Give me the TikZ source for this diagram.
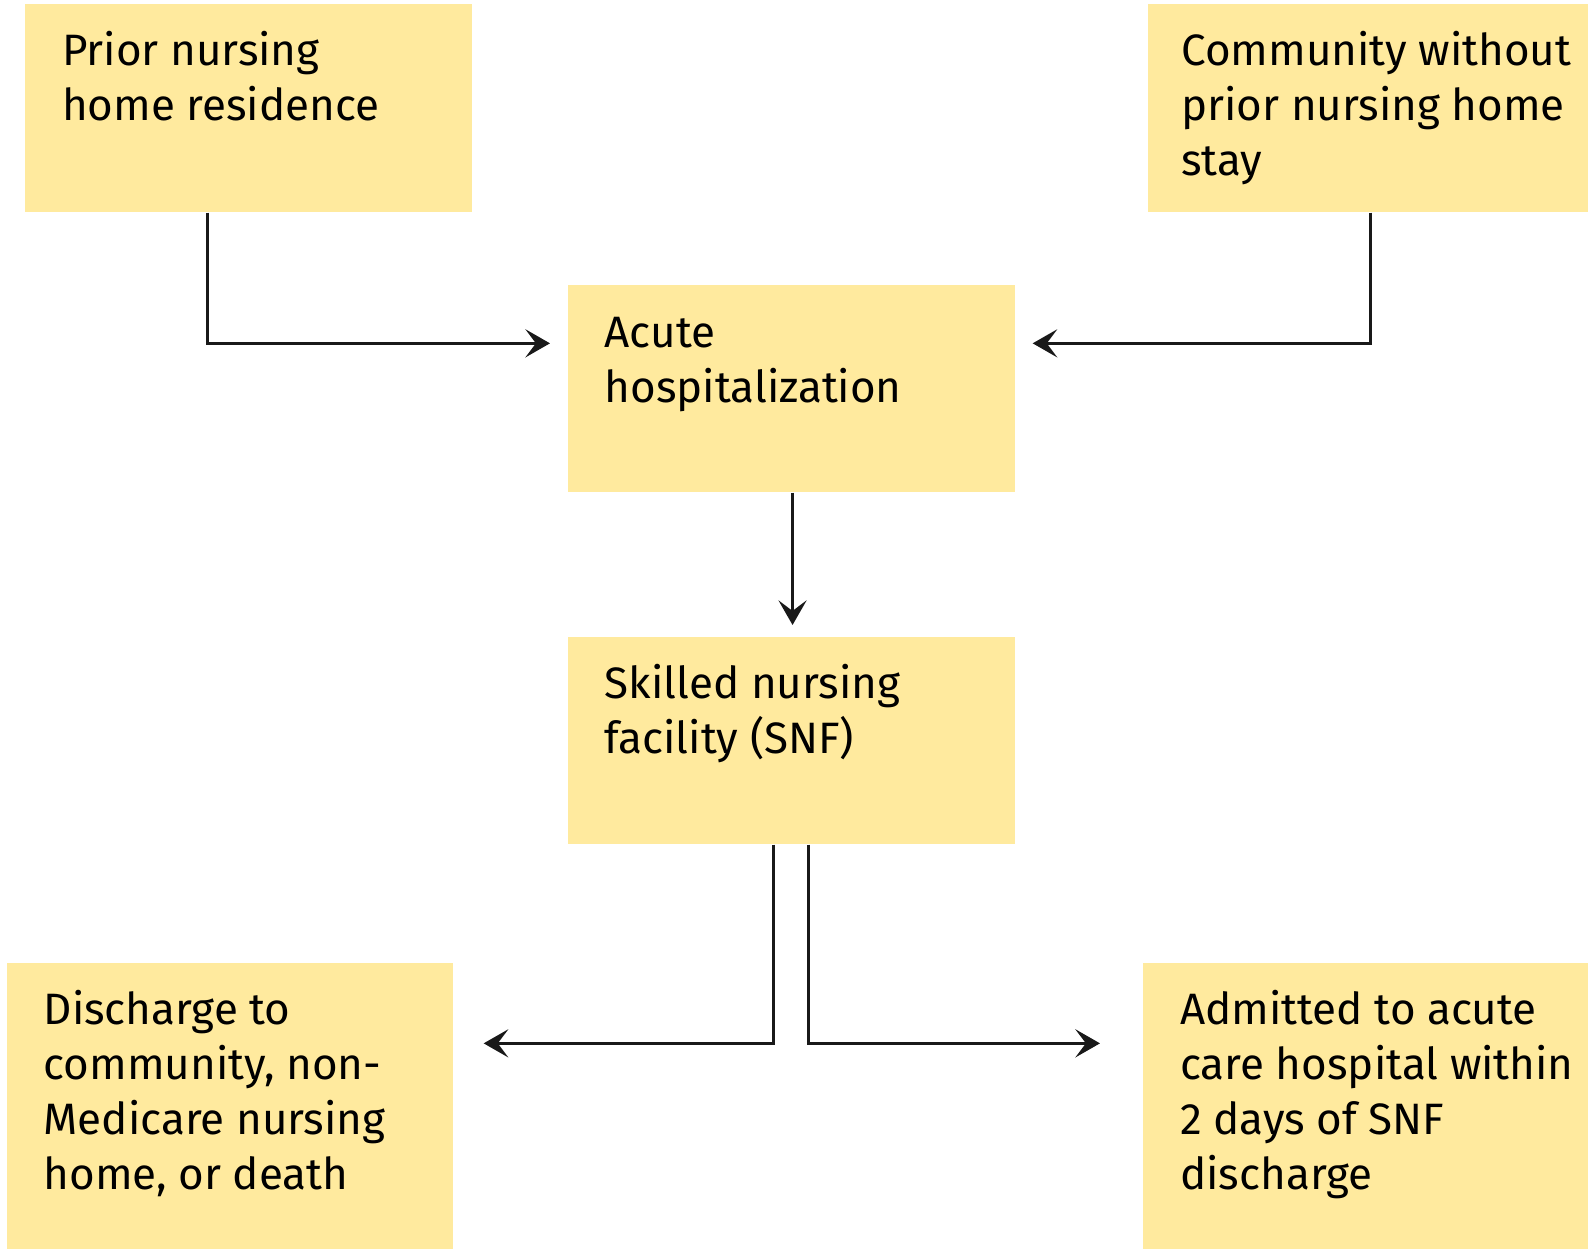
\documentclass[tikz,border=0pt]{standalone}
\usepackage{fontspec}
\setmainfont{Fira Sans}
\usetikzlibrary{arrows.meta}
\definecolor{stageyellow}{RGB}{255,234,158}
\newcommand{\stagetext}[3][0.37cm]{\parbox[t]{#2}{\raggedright\leftskip=#1 #3}}
\tikzset{
  stage/.style={fill=stageyellow, anchor=north west, inner sep=0,
    text height=0.62cm, font=\fontsize{12.5}{15.65}\selectfont},
  flow/.style={line width=0.8pt, color=black!90, -{Stealth[length=7pt,width=8pt,inset=3pt]}}
}
\begin{document}
\begin{tikzpicture}[x=0.01cm,y=-0.01cm]
		\useasboundingbox (0,0) rectangle (1588,1249);
		% stages
		\node[stage, text depth=1.46cm] (prior) at (24.3,3) {\stagetext{4.47cm}{Prior nursing\\home residence}};
		\node[stage, text depth=1.46cm] (community) at (1147.5,3) {\stagetext[0.33cm]{4.405cm}{Community without\\prior nursing home\\stay}};
		\node[stage, text depth=1.444cm] (hosp) at (567,284.6) {\stagetext{4.47cm}{Acute\\hospitalization}};
		\node[stage, text depth=1.45cm] (snf) at (567,636) {\stagetext{4.47cm}{Skilled nursing\\facility (SNF)}};
		\node[stage, text depth=2.25cm] (discharge) at (6,962) {\stagetext{4.46cm}{Discharge to\\community, non-\\Medicare nursing\\home, or death}};
		\node[stage, text depth=2.25cm] (admitted) at (1142.5,962) {\stagetext{4.455cm}{Admitted to acute\\care hospital within\\2 days of SNF\\discharge}};
		% connectors
		\draw[flow] ([xshift=-0.41cm]prior.south) |- ([xshift=-0.17cm,yshift=-0.587cm]hosp.north west);
		\draw[flow] ([xshift=0.02cm]community.south) |- ([xshift=0.17cm,yshift=-0.587cm]hosp.north east);
		\draw[flow] ([xshift=0.012cm]hosp.south) -- ([xshift=0.012cm,yshift=0.11cm]snf.north);
		\draw[flow] ([xshift=-0.18cm]snf.south) |- ([xshift=0.30cm,yshift=-0.813cm]discharge.north east);
		\draw[flow] ([xshift=0.17cm]snf.south) |- ([xshift=-0.425cm,yshift=-0.813cm]admitted.north west);
\end{tikzpicture}
\end{document}
